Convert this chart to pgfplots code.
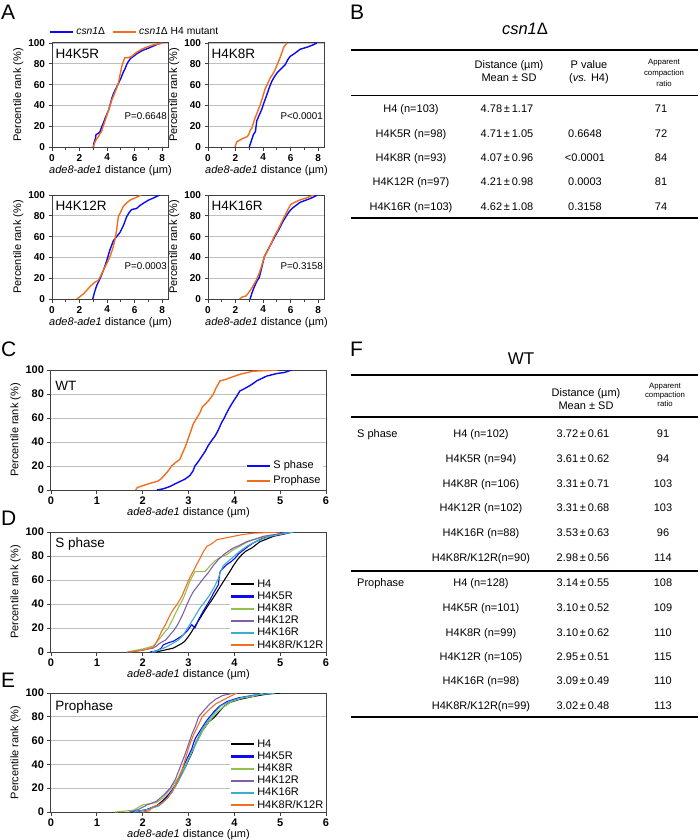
\documentclass[border=0pt]{standalone}
\usepackage{pgfplots}
\pgfplotsset{compat=1.18}
\usepackage{fontspec}
\setmainfont{Liberation Sans}
\definecolor{cblue}{RGB}{10,10,245}
\definecolor{corange}{RGB}{240,110,30}
\definecolor{cgreen}{RGB}{146,192,80}
\definecolor{cpurple}{RGB}{125,95,170}
\definecolor{ccyan}{RGB}{60,172,210}
\newcommand{\fsz}[1]{\fontsize{#1}{#1}\selectfont}
\pgfplotsset{
  cdfbase/.style={
    scale only axis, anchor=south west,
    axis line style={black!75, line width=1pt},
    tick align=outside, xtick pos=bottom, ytick pos=left,
    ymin=0, ymax=100, ytick={0,20,40,60,80,100},
    ymajorgrids, grid style={black!25, line width=0.7pt},
    major tick length=3.5pt, minor tick length=2.5pt,
    every tick/.style={black!75, line width=0.8pt},
    /pgf/number format/assume math mode=true,
    ylabel={Percentile rank (\%)},
    xlabel={\textit{ade8-ade1} distance (µm)},
  },
  smallA/.style={cdfbase, width=117pt, height=104pt, xmin=0, xmax=8.5,
    xtick={0,2,4,6,8}, minor xtick={1,3,5,7},
    ticklabel style={font=\bfseries\fsz{10}},
    label style={font=\fsz{11}},
    xlabel style={yshift=2pt}, ylabel style={yshift=-2pt}},
  bigC/.style={cdfbase, width=275pt, height=120pt, xmin=0, xmax=6,
    xtick={0,1,2,3,4,5,6},
    ticklabel style={font=\bfseries\fsz{11}},
    label style={font=\fsz{11}},
    xlabel style={yshift=4pt}, ylabel style={yshift=-2pt}},
  multileg/.style={legend style={at={(1,0)}, anchor=south east, draw=none, fill=white,
    font=\fsz{11}, inner sep=0.5pt, nodes={inner ysep=0.9pt, text height=8pt, text depth=2.4pt}},
    legend cell align=left,
    legend image code/.code={\draw[##1, line width=2.2pt] (0pt,0pt) -- (23pt,0pt);}},
}
\begin{document}
\begin{tikzpicture}[x=1pt,y=1pt]
\path[use as bounding box] (0,0) rectangle (700,-840);
% ---------------- Panel A ----------------
\node[anchor=base west, inner sep=0pt] at (1,-20) {\fsz{21}A};
\begin{axis}[smallA, at={(52pt,-147pt)},
  legend style={at={(0,1)}, anchor=west, yshift=11pt, xshift=-3pt, draw=none, fill=none,
    font=\fsz{10.3}, inner sep=0pt},
  legend columns=2, /tikz/every even column/.append style={column sep=5pt},
  legend image code/.code={\draw[#1, line width=2.2pt] (0pt,0pt) -- (23pt,0pt);}]
\addplot[cblue, line width=1.4pt] coordinates {(3.0,0)(3.05,4)(3.15,8)(3.2,12)(3.35,13)(3.5,15)(3.6,19)(3.73,23)(3.9,29)(4.1,35)(4.25,42)(4.35,47)(4.46,51)(4.6,55)(4.82,61)(5.0,66)(5.18,72)(5.3,75)(5.45,80)(5.54,82)(5.7,85)(5.9,87)(6.2,90)(6.6,93)(7.0,95)(7.35,97)(7.7,99)(8.0,100)};
\addlegendentry{\textit{csn1}Δ}
\addplot[corange, line width=1.4pt] coordinates {(3.0,0)(3.1,4)(3.25,8)(3.37,10)(3.5,13)(3.6,15)(3.75,21)(3.9,27)(4.0,31)(4.15,37)(4.34,45)(4.5,50)(4.65,55)(4.82,61)(4.95,70)(5.06,77)(5.18,82)(5.3,86)(5.55,86)(5.78,87)(5.95,89)(6.14,91)(6.5,94)(6.87,96)(7.3,98)(7.7,99)(8.0,100)};
\addlegendentry{\textit{csn1}Δ H4 mutant}
\node[anchor=base west, inner sep=0pt] at (rel axis cs:0.03,0.853) {\fsz{13.5}H4K5R};
\node[anchor=base east, inner sep=0pt] at (rel axis cs:0.983,0.266) {\fsz{9.8}P=0.6648};
\end{axis}
\begin{axis}[smallA, at={(208pt,-147pt)}]
\addplot[cblue, line width=1.4pt] coordinates {(3.0,0)(3.1,4)(3.2,8)(3.3,12)(3.45,15)(3.54,25)(3.7,30)(3.9,36)(4.05,42)(4.27,50)(4.45,57)(4.63,63)(4.8,67)(5.0,71)(5.3,75)(5.6,79)(5.8,84)(5.96,87)(6.3,90)(6.7,94)(7.2,96)(7.6,98)(7.9,100)};
\addplot[corange, line width=1.4pt] coordinates {(1.96,0)(2.09,5)(2.5,8)(2.85,10)(2.95,12)(3.1,17)(3.18,18)(3.3,23)(3.42,28)(3.6,34)(3.78,40)(3.95,47)(4.15,56)(4.3,60)(4.5,66)(4.7,70)(4.87,74)(5.05,80)(5.24,86)(5.4,92)(5.5,96)(5.75,100)};
\node[anchor=base west, inner sep=0pt] at (rel axis cs:0.03,0.853) {\fsz{13.5}H4K8R};
\node[anchor=base east, inner sep=0pt] at (rel axis cs:0.983,0.266) {\fsz{9.8}P<0.0001};
\end{axis}
\begin{axis}[smallA, at={(52pt,-299pt)}]
\addplot[cblue, line width=1.4pt] coordinates {(2.96,0)(3.1,7)(3.25,13)(3.4,17)(3.6,23)(3.8,30)(3.98,37)(4.2,47)(4.46,56)(4.7,60)(4.94,64)(5.2,71)(5.42,79)(5.6,83)(5.78,86)(6.14,87)(6.4,90)(6.63,92)(7.0,95)(7.35,97)(7.83,100)};
\addplot[corange, line width=1.4pt] coordinates {(1.8,0)(2.0,2)(2.29,5)(2.5,8)(2.77,12)(3.1,16)(3.37,18)(3.6,24)(3.86,31)(4.05,36)(4.22,41)(4.4,48)(4.58,57)(4.68,65)(4.75,72)(4.82,79)(5.0,84)(5.18,89)(5.4,92)(5.66,95)(6.0,97)(6.5,100)};
\node[anchor=base west, inner sep=0pt] at (rel axis cs:0.03,0.85) {\fsz{13.5}H4K12R};
\node[anchor=base east, inner sep=0pt] at (rel axis cs:0.983,0.28) {\fsz{9.8}P=0.0003};
\end{axis}
\begin{axis}[smallA, at={(208pt,-299pt)}]
\addplot[cblue, line width=1.4pt] coordinates {(3.06,0)(3.2,6)(3.37,12)(3.55,17)(3.73,21)(3.9,30)(4.1,41)(4.3,46)(4.46,50)(4.7,56)(4.94,62)(5.2,68)(5.42,74)(5.65,79)(5.9,84)(6.1,87)(6.39,90)(6.7,93)(7.1,95)(7.5,97)(7.95,100)};
\addplot[corange, line width=1.4pt] coordinates {(2.29,0)(2.5,2)(2.77,3)(3.0,7)(3.25,12)(3.5,18)(3.73,25)(3.9,32)(4.1,41)(4.35,47)(4.58,53)(4.8,60)(5.06,66)(5.35,74)(5.66,82)(5.85,87)(6.02,91)(6.3,93)(6.63,95)(7.1,97)(7.7,100)};
\node[anchor=base west, inner sep=0pt] at (rel axis cs:0.03,0.85) {\fsz{13.5}H4K16R};
\node[anchor=base east, inner sep=0pt] at (rel axis cs:0.983,0.28) {\fsz{9.8}P=0.3158};
\end{axis}
% ---------------- Panel C ----------------
\node[anchor=base west, inner sep=0pt] at (1,-356) {\fsz{21}C};
\begin{axis}[bigC, at={(51pt,-490pt)},
  legend style={at={(0.99,0.005)}, anchor=south east, draw=none, fill=white,
    font=\fsz{11}, inner sep=0.5pt, nodes={inner ysep=2.4pt, text height=8pt, text depth=2.4pt}},
  legend cell align=left,
  legend image code/.code={\draw[#1, line width=2.2pt] (0pt,0pt) -- (23pt,0pt);}]
\addplot[cblue, line width=1.4pt] coordinates {(2.31,0)(2.45,1)(2.6,3)(2.7,5)(2.81,7)(2.92,9)(3.03,12)(3.1,16)(3.14,20)(3.22,24)(3.29,28)(3.36,32)(3.43,37)(3.5,41)(3.58,45)(3.65,50)(3.72,56)(3.78,60)(3.83,64)(3.9,69)(3.98,74)(4.05,78)(4.12,82.5)(4.2,84)(4.34,87)(4.42,89)(4.49,91)(4.6,93)(4.71,95)(4.92,97)(5.1,98)(5.25,100)};
\addlegendentry{S phase}
\addplot[corange, line width=1.4pt] coordinates {(1.85,0)(1.88,2)(2.09,4.7)(2.2,6)(2.34,7.5)(2.42,10)(2.49,13)(2.56,16)(2.63,20)(2.72,23)(2.81,25.5)(2.86,30)(2.89,32.5)(2.95,38)(3.0,43.6)(3.05,49)(3.1,54.7)(3.18,60)(3.25,64.4)(3.3,69)(3.36,71.4)(3.45,75)(3.54,79.7)(3.6,85)(3.69,91)(3.8,92)(3.91,93.6)(4.12,96.4)(4.41,99)(4.95,100)};
\addlegendentry{Prophase}
\node[anchor=base west, inner sep=0pt] at (rel axis cs:0.015,0.833) {\fsz{13.5}WT};
\end{axis}
% ---------------- Panel D ----------------
\node[anchor=base west, inner sep=0pt] at (1,-525) {\fsz{21}D};
\begin{axis}[bigC, at={(51pt,-652pt)}, multileg]
\addplot[black, line width=1.1pt] coordinates {(2.3,0)(2.52,2)(2.65,3)(2.74,4.7)(2.85,7)(2.92,9)(3.0,13)(3.07,17)(3.15,22)(3.25,28)(3.33,33)(3.43,39)(3.52,44)(3.62,50)(3.7,55)(3.8,61)(3.9,67)(3.98,72)(4.07,77)(4.16,81)(4.25,84)(4.38,86.7)(4.46,89)(4.56,92)(4.7,94)(4.85,96.4)(5.05,98)(5.28,100)};
\addlegendentry{H4}
\addplot[cblue, line width=1.1pt] coordinates {(2.16,0)(2.31,1)(2.4,3)(2.45,6)(2.58,8)(2.67,9)(2.8,12)(2.89,14.4)(2.98,18)(3.07,22.8)(3.14,20)(3.22,27)(3.32,34)(3.4,39)(3.47,43.6)(3.56,50)(3.65,56)(3.67,62)(3.69,67)(3.76,70)(3.83,72.7)(3.92,75)(4.01,78)(4.1,82)(4.2,85)(4.3,88)(4.41,90.8)(4.52,93)(4.63,95)(4.85,97)(5.14,100)};
\addlegendentry{H4K5R}
\addplot[cgreen, line width=1.1pt] coordinates {(1.65,0)(1.8,1)(2.0,2.5)(2.23,5)(2.3,8)(2.38,11.7)(2.47,16)(2.56,20)(2.65,27)(2.74,34)(2.82,40)(2.89,45)(2.96,52)(3.03,59)(3.1,64)(3.14,67)(3.25,67)(3.36,67)(3.45,71)(3.58,76)(3.7,79)(3.83,81)(3.97,85)(4.12,88)(4.25,91)(4.41,93.6)(4.6,95.5)(4.78,97)(5.0,98.5)(5.21,100)};
\addlegendentry{H4K8R}
\addplot[cpurple, line width=1.1pt] coordinates {(1.7,0)(2.0,1.5)(2.23,3.3)(2.3,5)(2.38,7.5)(2.5,10)(2.6,14.4)(2.7,19)(2.78,24)(2.87,31)(2.96,39)(3.03,45)(3.1,50)(3.2,55)(3.32,61)(3.43,66)(3.54,72)(3.65,77)(3.76,81)(3.87,84)(3.98,86.7)(4.12,89)(4.27,92)(4.45,94)(4.63,96.4)(4.9,98)(5.21,100)};
\addlegendentry{H4K12R}
\addplot[ccyan, line width=1.1pt] coordinates {(2.2,0)(2.31,1)(2.5,4)(2.67,7.5)(2.78,10)(2.89,14.4)(2.98,20)(3.07,25.5)(3.16,31)(3.25,36.7)(3.36,42)(3.47,48)(3.56,54)(3.65,61)(3.7,67)(3.76,72)(3.85,75)(3.94,78)(4.03,81)(4.12,84)(4.27,88)(4.41,91)(4.6,94)(4.78,96.4)(5.0,98)(5.29,100)};
\addlegendentry{H4K16R}
\addplot[corange, line width=1.1pt] coordinates {(1.72,0)(2.0,1.5)(2.23,3.9)(2.3,8)(2.35,12)(2.41,17)(2.5,23)(2.6,31)(2.66,35)(2.74,39)(2.85,46)(2.96,56)(3.03,62)(3.1,67)(3.18,73)(3.25,78)(3.33,84)(3.4,88)(3.5,90)(3.62,93.6)(3.8,95)(3.98,96.4)(4.2,98)(4.41,99)(5.0,100)};
\addlegendentry{H4K8R/K12R}
\node[anchor=base west, inner sep=0pt] at (rel axis cs:0.015,0.875) {\fsz{13.5}S phase};
\end{axis}
% ---------------- Panel E ----------------
\node[anchor=base west, inner sep=0pt] at (1,-687) {\fsz{21}E};
\begin{axis}[bigC, at={(51pt,-812pt)}, height=119pt, multileg]
\addplot[black, line width=1.1pt] coordinates {(1.75,0)(2.05,1.5)(2.3,5)(2.45,10)(2.6,16)(2.68,20)(2.75,24)(2.85,32)(2.92,37)(2.97,41)(3.03,46)(3.08,50)(3.18,60)(3.25,64)(3.3,68)(3.45,76)(3.55,79)(3.62,82)(3.75,88)(3.9,92)(4.1,94.5)(4.4,97)(4.7,99)(5.0,100)};
\addlegendentry{H4}
\addplot[cblue, line width=1.1pt] coordinates {(1.8,0)(2.1,2)(2.35,6)(2.5,11)(2.65,19)(2.72,23)(2.78,28)(2.88,37)(2.97,45)(3.07,53)(3.12,59)(3.15,62)(3.28,70)(3.4,77)(3.55,84)(3.68,89)(3.85,93)(4.1,96)(4.4,98)(4.75,100)};
\addlegendentry{H4K5R}
\addplot[cgreen, line width=1.1pt] coordinates {(1.4,0)(1.8,1.5)(2.0,6)(2.3,8)(2.45,12)(2.62,20)(2.78,29)(2.9,37)(3.0,45)(3.12,54)(3.2,60)(3.3,68)(3.45,76)(3.6,83)(3.75,88)(3.95,93)(4.2,96)(4.4,97)(4.63,100)};
\addlegendentry{H4K8R}
\addplot[cpurple, line width=1.1pt] coordinates {(1.7,0)(1.9,2)(2.1,6)(2.3,9)(2.45,14)(2.6,20)(2.72,28)(2.82,38)(2.92,48)(3.0,57)(3.07,65)(3.15,72)(3.22,80)(3.35,86)(3.47,91)(3.6,95)(3.75,98)(4.0,100)};
\addlegendentry{H4K12R}
\addplot[ccyan, line width=1.1pt] coordinates {(1.8,0)(2.1,2)(2.35,5)(2.5,10)(2.65,17)(2.78,26)(2.9,35)(3.0,44)(3.1,53)(3.2,62)(3.3,70)(3.45,78)(3.58,84)(3.7,89)(3.9,93)(4.15,96)(4.5,98.5)(4.9,100)};
\addlegendentry{H4K16R}
\addplot[corange, line width=1.1pt] coordinates {(2.0,0)(2.15,1)(2.2,4)(2.4,7)(2.55,12)(2.68,20)(2.78,28)(2.88,38)(2.95,47)(3.02,56)(3.1,64)(3.2,72)(3.3,80)(3.45,86)(3.6,91)(3.8,95)(3.95,98)(4.05,100)};
\addlegendentry{H4K8R/K12R}
\node[anchor=base west, inner sep=0pt] at (rel axis cs:0.015,0.857) {\fsz{13.5}Prophase};
\end{axis}
% ---------------- Panel B table ----------------
\node[anchor=base west, inner sep=0pt] at (350,-20) {\fsz{21}B};
\node[anchor=base, inner sep=0pt] at (525,-35) {\fsz{16.5}\textit{csn1}Δ};
\draw[line width=1.6pt] (351,-50) -- (698,-50);
\draw[line width=1pt] (351,-96) -- (698,-96);
\draw[line width=1.6pt] (351,-218) -- (698,-218);
\begin{scope}[every node/.style={anchor=base, inner sep=0pt, font=\fsz{11}}]
\node at (509,-69) {Distance (µm)};
\node at (509,-82) {Mean ± SD};
\node at (589,-69) {P value};
\node at (589,-82) {(\textit{vs.} H4)};
\node[font=\fsz{7.8}] at (664,-65) {Apparent};
\node[font=\fsz{7.8}] at (664,-76) {compaction};
\node[font=\fsz{7.8}] at (664,-87) {ratio};
\node at (411,-113) {H4 (n=103)};     \node at (507,-113) {4.78\,±\,1.17}; \node at (661,-113) {71};
\node at (411,-137) {H4K5R (n=98)};   \node at (507,-137) {4.71\,±\,1.05}; \node at (585,-137) {0.6648}; \node at (661,-137) {72};
\node at (411,-161) {H4K8R (n=93)};   \node at (507,-161) {4.07\,±\,0.96}; \node at (585,-161) {<0.0001}; \node at (661,-161) {84};
\node at (411,-185) {H4K12R (n=97)};  \node at (507,-185) {4.21\,±\,0.98}; \node at (585,-185) {0.0003}; \node at (661,-185) {81};
\node at (411,-210) {H4K16R (n=103)}; \node at (507,-210) {4.62\,±\,1.08}; \node at (585,-210) {0.3158}; \node at (661,-210) {74};
\end{scope}
% ---------------- Panel F table ----------------
\node[anchor=base west, inner sep=0pt] at (350,-356) {\fsz{21}F};
\node[anchor=base, inner sep=0pt] at (521,-364) {\fsz{17}WT};
\draw[line width=1.6pt] (351,-375) -- (698,-375);
\draw[line width=1.1pt] (351,-417) -- (698,-417);
\draw[line width=1.1pt] (351,-571) -- (698,-571);
\draw[line width=1.6pt] (351,-717) -- (698,-717);
\begin{scope}[every node/.style={anchor=base, inner sep=0pt, font=\fsz{11}}]
\node at (586,-396) {Distance (µm)};
\node at (586,-409) {Mean ± SD};
\node[font=\fsz{7.8}] at (665,-388) {Apparent};
\node[font=\fsz{7.8}] at (665,-397) {compaction};
\node[font=\fsz{7.8}] at (665,-406) {ratio};
\node[anchor=base west] at (357,-437) {S phase};
\node at (481,-437) {H4 (n=102)};          \node at (583,-437) {3.72\,±\,0.61}; \node at (663,-437) {91};
\node at (481,-462) {H4K5R (n=94)};        \node at (583,-462) {3.61\,±\,0.62}; \node at (663,-462) {94};
\node at (481,-487) {H4K8R (n=106)};       \node at (583,-487) {3.31\,±\,0.71}; \node at (663,-487) {103};
\node at (481,-511) {H4K12R (n=102)};      \node at (583,-511) {3.31\,±\,0.68}; \node at (663,-511) {103};
\node at (481,-536) {H4K16R (n=88)};       \node at (583,-536) {3.53\,±\,0.63}; \node at (663,-536) {96};
\node at (481,-561) {H4K8R/K12R(n=90)};    \node at (583,-561) {2.98\,±\,0.56}; \node at (663,-561) {114};
\node[anchor=base west] at (357,-586) {Prophase};
\node at (481,-586) {H4 (n=128)};          \node at (583,-586) {3.14\,±\,0.55}; \node at (663,-586) {108};
\node at (481,-611) {H4K5R (n=101)};       \node at (583,-611) {3.10\,±\,0.52}; \node at (663,-611) {109};
\node at (481,-636) {H4K8R (n=99)};        \node at (583,-636) {3.10\,±\,0.62}; \node at (663,-636) {110};
\node at (481,-660) {H4K12R (n=105)};      \node at (583,-660) {2.95\,±\,0.51}; \node at (663,-660) {115};
\node at (481,-684) {H4K16R (n=98)};       \node at (583,-684) {3.09\,±\,0.49}; \node at (663,-684) {110};
\node at (481,-709) {H4K8R/K12R(n=99)};    \node at (583,-709) {3.02\,±\,0.48}; \node at (663,-709) {113};
\end{scope}
\end{tikzpicture}
\end{document}
